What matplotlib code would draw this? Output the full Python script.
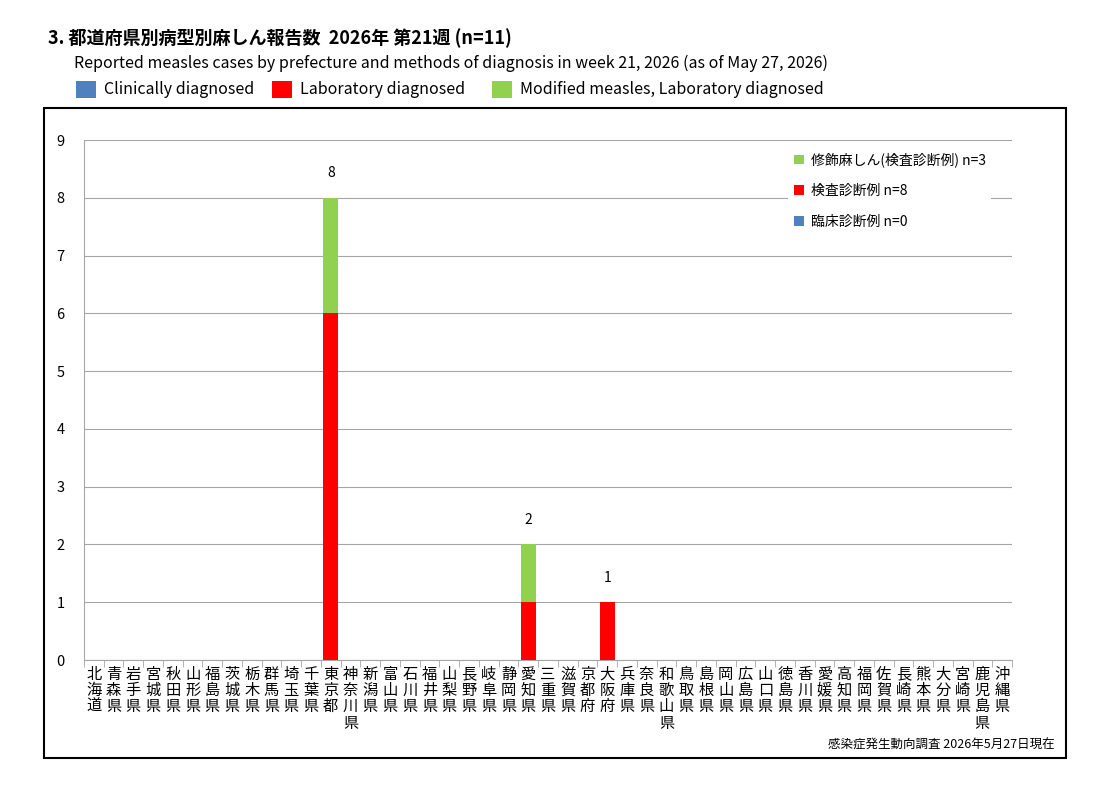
import matplotlib
matplotlib.use("Agg")
import matplotlib.pyplot as plt
from matplotlib.patches import Rectangle
import numpy as np

plt.rcParams['font.family'] = ['Noto Sans CJK JP', 'DejaVu Sans']

prefectures = ["北海道","青森県","岩手県","宮城県","秋田県","山形県","福島県","茨城県","栃木県","群馬県",
    "埼玉県","千葉県","東京都","神奈川県","新潟県","富山県","石川県","福井県","山梨県","長野県",
    "岐阜県","静岡県","愛知県","三重県","滋賀県","京都府","大阪府","兵庫県","奈良県","和歌山県",
    "鳥取県","島根県","岡山県","広島県","山口県","徳島県","香川県","愛媛県","高知県","福岡県",
    "佐賀県","長崎県","熊本県","大分県","宮崎県","鹿児島県","沖縄県"]
clinical = {}
laboratory = {"東京都": 6, "愛知県": 1, "大阪府": 1}
modified = {"東京都": 2, "愛知県": 1}

n = len(prefectures)
clin = np.array([clinical.get(p, 0) for p in prefectures])
lab = np.array([laboratory.get(p, 0) for p in prefectures])
mod = np.array([modified.get(p, 0) for p in prefectures])
total = clin + lab + mod

BLUE, RED, GREEN = "#4F81BD", "#FF0000", "#92D050"

fig = plt.figure(figsize=(11.11, 8.08), dpi=100)
W, H = 1111, 808
def fx(x): return x / W
def fy(y): return 1 - y / H

fig.patches.append(Rectangle((fx(44), fy(758)), fx(1066) - fx(44), fy(108) - fy(758),
                             transform=fig.transFigure, fill=False, edgecolor="black", lw=1.5))

fig.text(fx(48), fy(38), "3. 都道府県別病型別麻しん報告数  2026年 第21週 (n=11)", fontsize=13,
         fontweight="bold", va="center")
fig.text(fx(74), fy(63), "Reported measles cases by prefecture and methods of diagnosis in week 21, 2026 (as of May 27, 2026)",
         fontsize=11.5, va="center")
for x, c, t in [(76, BLUE, "Clinically diagnosed"), (272, RED, "Laboratory diagnosed"), (492, GREEN, "Modified measles, Laboratory diagnosed")]:
    fig.patches.append(Rectangle((fx(x), fy(98)), fx(20), fy(81) - fy(98), transform=fig.transFigure,
                                 facecolor=c, edgecolor="none"))
    fig.text(fx(x + 28), fy(90), t, fontsize=11.5, va="center")

ax = fig.add_axes([fx(84), fy(660), fx(1012) - fx(84), fy(140) - fy(660)])
x = np.arange(n)
w = 0.75
ax.bar(x, clin, w, color=BLUE, label="臨床診断例 n=%d" % clin.sum(), zorder=3)
ax.bar(x, lab, w, bottom=clin, color=RED, label="検査診断例 n=%d" % lab.sum(), zorder=3)
ax.bar(x, mod, w, bottom=clin + lab, color=GREEN, label="修飾麻しん(検査診断例) n=%d" % mod.sum(), zorder=3)
for i, t in enumerate(total):
    if t > 0:
        ax.text(i, t + 0.3, str(t), ha="center", va="bottom", fontsize=10)

ax.set_xlim(-0.5, n - 0.5)
ax.set_ylim(0, 9)
ax.set_yticks(range(10))
ax.grid(axis="y", color="#A6A6A6", lw=0.8, zorder=0)
for s in ["top", "right"]:
    ax.spines[s].set_visible(False)
ax.spines["left"].set_color("#A6A6A6")
ax.spines["bottom"].set_color("#A6A6A6")
ax.tick_params(axis="y", length=0, labelsize=10.5, pad=14)
ax.set_xticks(np.arange(-0.5, n, 1), minor=True)
ax.set_xticks(x)
ax.set_xticklabels(["\n".join(p) for p in prefectures], fontsize=11, linespacing=0.95)
ax.tick_params(axis="x", which="major", length=0, pad=4)
ax.tick_params(axis="x", which="minor", length=5, color="#A6A6A6")

h, l = ax.get_legend_handles_labels()
leg = ax.legend(h[::-1], l[::-1], loc="upper right", bbox_to_anchor=(0.985, 1.0), frameon=True,
                facecolor="white", edgecolor="none", framealpha=1, fontsize=10,
                handlelength=0.7, handleheight=0.7, labelspacing=1.2, borderpad=0.4, handletextpad=0.5)

fig.text(fx(1055), fy(745), "感染症発生動向調査 2026年5月27日現在", fontsize=9, ha="right", va="center")

fig.savefig("out.png", dpi=100)
